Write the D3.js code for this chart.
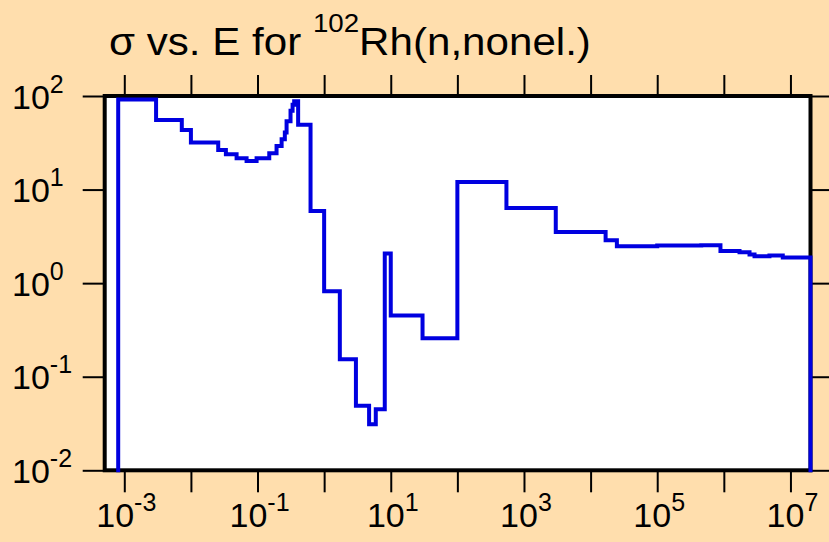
<!DOCTYPE html>
<html><head><meta charset="utf-8">
<script src="https://cdn.jsdelivr.net/npm/d3@7"></script>
<style>html,body{margin:0;padding:0;background:#FFDEAD;} svg{display:block}</style>
</head><body>
<svg id="chart" width="829" height="542"></svg>
<script>
// Energy bin edges (eV) and cross section values (b) for each bin
const energyEdges = [8.1e-4, 3.0e-3, 7.3e-3, 1.0e-2, 0.0257, 0.0335, 0.0485, 0.0685, 0.0968, 0.150,
  0.193, 0.230, 0.257, 0.273, 0.313, 0.336, 0.355, 0.407, 0.625, 1.0,
  1.72, 3.0, 4.73, 5.96, 8.13, 10, 30, 100, 545, 3000,
  1.68e4, 2.48e4, 1e5, 4.58e5, 8.9e5, 1.72e6, 2.43e6, 2.89e6, 4.84e6, 7.67e6, 2e7];
const sigmaValues = [92, 55.3, 43.2, 31.9, 26.5, 23.9, 21.6, 20.2, 21.6, 24.5,
  29.3, 34.6, 40.8, 53.6, 69.5, 80.7, 87.8, 49.2, 5.89, 0.817,
  0.154, 0.049, 0.0311, 0.0448, 2.07, 0.452, 0.258, 12.05, 6.34, 3.51,
  2.88, 2.48, 2.52, 2.54, 2.21, 2.14, 2.02, 1.94, 1.97, 1.88];
const xDomain = [5.08e-4, 2e7];
const yDomain = [1e-2, 1e2];
const xTickExponents = [-3,-2,-1,0,1,2,3,4,5,6,7];
const xLabelExponents = [-3,-1,1,3,5,7];
const yTickExponents = [-2,-1,0,1,2];
const yLabelExponents = [-2,-1,0,1,2];
const titleMain1 = "σ vs. E for ";
const titleSup = "102";
const titleMain2 = "Rh(n,nonel.)";

const svg = d3.select("#chart");
const L = 104.7, R = 810.5, T = 96, B = 470.3;
const x = d3.scaleLog().domain(xDomain).range([L, R]);
const y = d3.scaleLog().domain(yDomain).range([B, T]);
const font = "'Liberation Sans', Arial, Helvetica, sans-serif";

svg.append("rect").attr("width", 829).attr("height", 542).attr("fill", "#FFDEAD");
svg.append("rect").attr("x", L).attr("y", T).attr("width", R - L).attr("height", B - T).attr("fill", "#fff");

const xTicks = xTickExponents.map(e => Math.pow(10, e));
const yTicks = yTickExponents.map(e => Math.pow(10, e));

function styleAxis(g){
  g.select(".domain").remove();
  g.selectAll(".tick line").attr("stroke", "#000").attr("stroke-width", 2);
  g.selectAll(".tick text").remove();
}
svg.append("g").attr("transform", `translate(0,${B})`)
  .call(d3.axisBottom(x).tickValues(xTicks).tickSize(22).tickSizeOuter(0)).call(styleAxis);
svg.append("g").attr("transform", `translate(0,${T})`)
  .call(d3.axisTop(x).tickValues(xTicks).tickSize(21).tickSizeOuter(0)).call(styleAxis);
svg.append("g").attr("transform", `translate(${L},0)`)
  .call(d3.axisLeft(y).tickValues(yTicks).tickSize(22).tickSizeOuter(0)).call(styleAxis);
svg.append("g").attr("transform", `translate(${R},0)`)
  .call(d3.axisRight(y).tickValues(yTicks).tickSize(22).tickSizeOuter(0)).call(styleAxis);

// frame
svg.append("rect").attr("x", L).attr("y", T).attr("width", R - L).attr("height", B - T)
  .attr("fill", "none").attr("stroke", "#000").attr("stroke-width", 4);

// step line
const pts = [[energyEdges[0], yDomain[0]]];
sigmaValues.forEach((v, i) => pts.push([energyEdges[i], v]));
pts.push([energyEdges[energyEdges.length - 1], sigmaValues[sigmaValues.length - 1]]);
pts.push([energyEdges[energyEdges.length - 1], yDomain[0]]);
const line = d3.line().x(d => x(d[0])).y(d => y(d[1])).curve(d3.curveStepAfter);
svg.append("path").attr("d", line(pts)).attr("fill", "none")
  .attr("stroke", "#0000E0").attr("stroke-width", 4).attr("stroke-linejoin", "miter").attr("stroke-linecap", "square");

// x labels
xLabelExponents.forEach(e => {
  const t = svg.append("text").attr("x", x(Math.pow(10, e)) + 2).attr("y", 527)
    .attr("text-anchor", "middle").attr("font-family", font).attr("font-size", 34).attr("fill", "#000");
  t.append("tspan").text("10");
  t.append("tspan").attr("font-size", 25).attr("dy", -16).text(String(e));
});
// y labels
yLabelExponents.forEach(e => {
  const t = svg.append("text").attr("x", 12).attr("y", y(Math.pow(10, e)) + 12.5)
    .attr("font-family", font).attr("font-size", 34).attr("fill", "#000");
  t.append("tspan").text("10");
  t.append("tspan").attr("font-size", 25).attr("dy", -16).text(String(e));
});

// title, stretched horizontally to span the reference width
const tg = svg.append("g");
const tt = tg.append("text").attr("x", 0).attr("y", 0)
  .attr("font-family", font).attr("font-size", 38).attr("fill", "#000");
tt.append("tspan").text(titleMain1);
tt.append("tspan").attr("font-size", 25).attr("dy", -23).text(titleSup);
tt.append("tspan").attr("dy", 23).text(titleMain2);
const bb = tt.node().getBBox();
const sx = 482 / bb.width;
tg.attr("transform", `translate(${109 - bb.x * sx},55) scale(${sx},1)`);
</script>
</body></html>
